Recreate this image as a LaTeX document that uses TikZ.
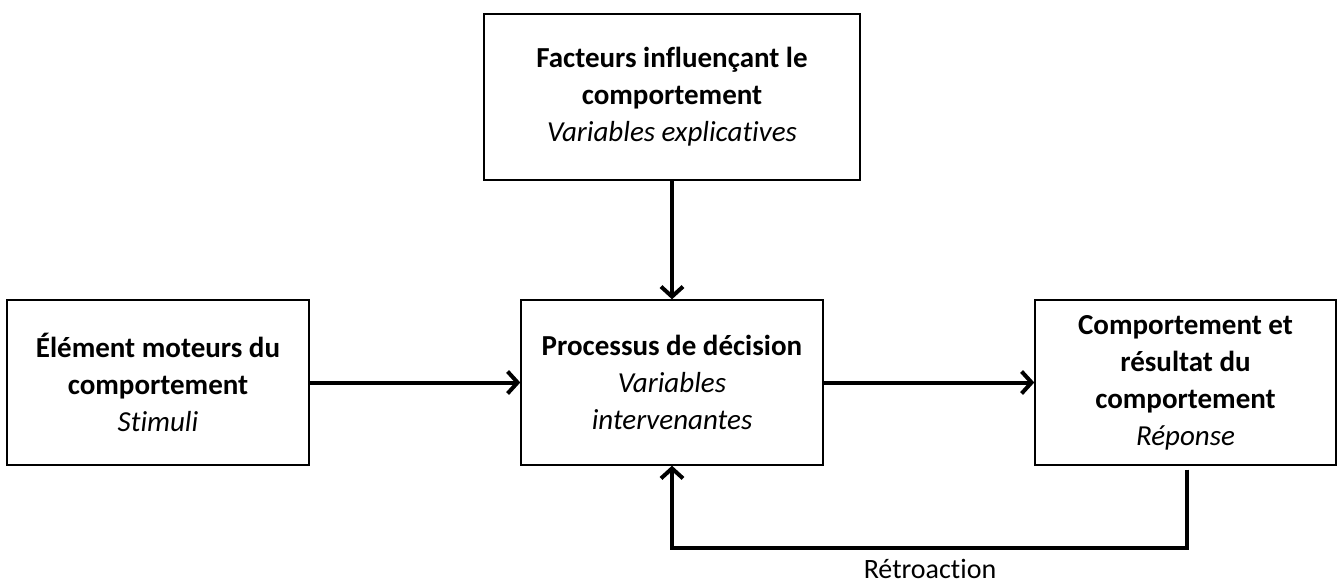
\documentclass[tikz,border=0pt]{standalone}
\usepackage{fontspec}
\setmainfont{Carlito}[Ligatures=NoCommon]
\usetikzlibrary{arrows.meta,calc}
\begin{document}
\begin{tikzpicture}[x=1pt,y=-1pt,
  box/.style={draw, line width=1.4pt, rectangle, align=center, inner sep=0pt,
    minimum width=302pt, minimum height=165pt,
    font=\fontsize{29}{37}\selectfont},
  flow/.style={line width=4pt, -{Straight Barb[length=10pt,width=22pt]}},
]
\useasboundingbox (0,0) rectangle (1339,585);

% the four boxes
\node[box, minimum width=376pt, minimum height=166pt] (top) at (672,97)
  {\textbf{Facteurs influençant le}\\\textbf{comportement}\\\textit{Variables explicatives}};
\node[box] (lft) at (158,382.5)
  {\textbf{Élément moteurs du}\\\textbf{comportement}\\\textit{Stimuli}};
\node[box] (mid) at (672,382.5)
  {\textbf{Processus de décision}\\\textit{Variables}\\\textit{intervenantes}};
\node[box, minimum width=301pt] (rgt) at (1185.5,382.5)
  {\textbf{Comportement et}\\\textbf{résultat du}\\\textbf{comportement}\\\textit{Réponse}};

% connectors
\draw[flow] (top.south) -- (mid.north);
\draw[flow] (lft.east) -- (mid.west);
\draw[flow] (mid.east) -- (rgt.west);

% feedback loop
\coordinate (fbstart) at ($(rgt.south)+(1.5,4)$);
\coordinate (fbcorner) at ($(fbstart)+(0,78)$);
\draw[flow] (fbstart) -- (fbcorner) -| (mid.south);
\node[font=\fontsize{28}{32}\selectfont, anchor=base, inner sep=0pt] (fb) at (930,578) {Rétroaction};
\end{tikzpicture}
\end{document}
